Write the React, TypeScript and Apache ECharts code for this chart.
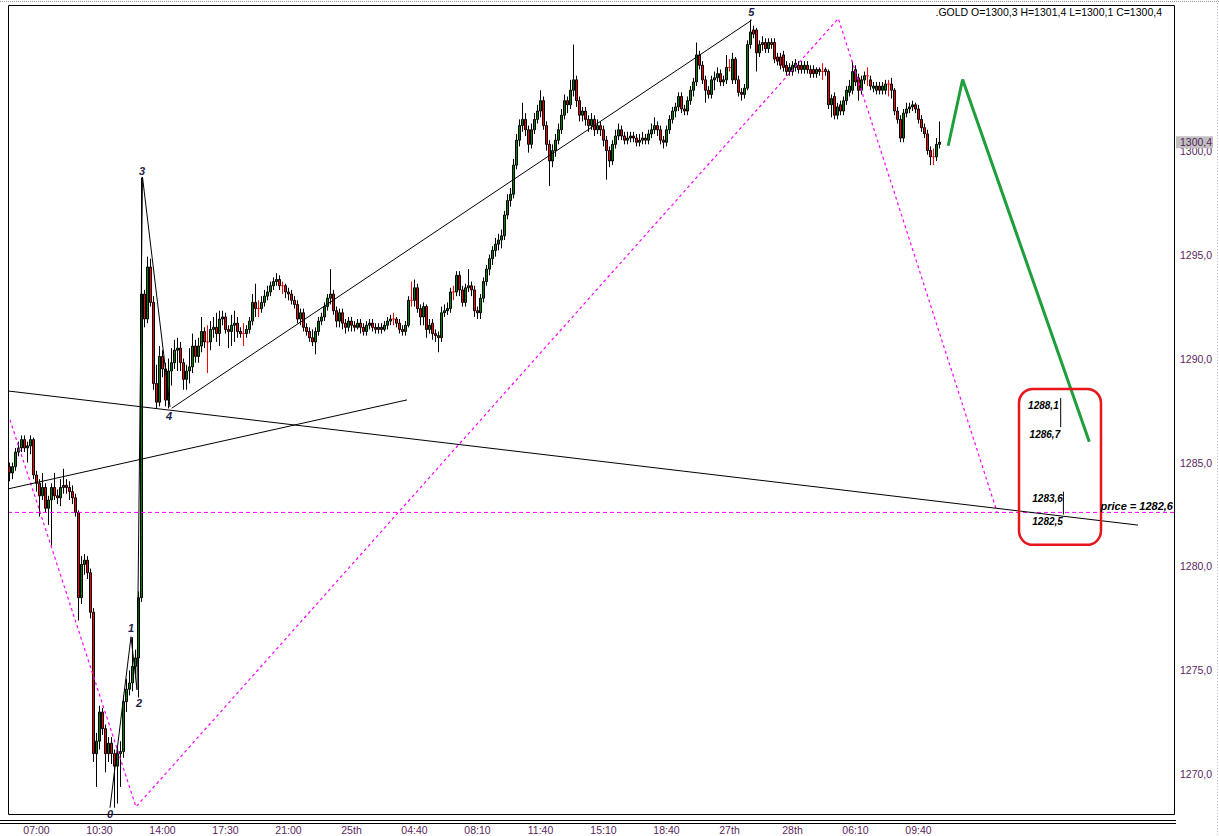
import React, { useEffect, useRef } from "react";
import * as echarts from "echarts";

// ---------- axes ----------
const SLOT_COUNT = 389; // bar slots across the price window (3 px each)
const Y_MIN = 1268.05;
const Y_MAX = 1307.0;
const priceTicks = [1270, 1275, 1280, 1285, 1290, 1295, 1300];
const timeLabelText = ["07:00", "10:30", "14:00", "17:30", "21:00", "25th", "04:40", "08:10", "11:40", "15:10", "18:40", "27th", "28th", "06:10", "09:40"];
const timeLabelBar = [9, 30, 51, 72, 93, 114, 135, 156, 177, 198, 219, 240, 261, 282, 303];

// ---------- candles [open, close, low, high] ----------
const session1 = [
  [1284.8, 1284.5, 1284.1, 1285.0], [1284.5, 1284.8, 1284.2, 1285.0], [1284.8, 1285.5, 1284.6, 1285.7], [1285.5, 1285.7, 1285.3, 1286.0],
  [1285.7, 1286.1, 1285.5, 1286.3], [1286.1, 1285.7, 1285.5, 1286.3], [1285.7, 1285.8, 1285.0, 1286.0], [1285.8, 1286.1, 1285.4, 1286.3],
  [1286.1, 1284.4, 1284.2, 1286.2], [1284.4, 1284.0, 1283.6, 1284.6], [1284.0, 1283.4, 1282.4, 1284.2], [1283.4, 1283.8, 1283.2, 1284.5],
  [1283.8, 1282.8, 1282.6, 1284.0], [1282.8, 1283.2, 1282.0, 1283.4], [1283.2, 1283.8, 1281.0, 1284.0], [1283.8, 1283.4, 1283.2, 1284.5],
  [1283.4, 1283.3, 1283.0, 1283.7], [1283.3, 1283.8, 1282.9, 1284.2], [1283.8, 1283.9, 1283.5, 1284.7], [1283.9, 1283.8, 1283.5, 1284.2],
  [1283.8, 1283.6, 1283.2, 1284.1], [1283.6, 1283.3, 1283.0, 1283.9], [1283.3, 1282.6, 1282.4, 1283.5], [1282.6, 1278.5, 1277.4, 1282.7],
  [1278.5, 1280.1, 1278.2, 1280.5], [1280.1, 1280.3, 1279.6, 1280.6], [1280.3, 1279.7, 1279.4, 1280.5], [1279.7, 1277.8, 1277.5, 1279.9],
  [1277.8, 1271.0, 1270.6, 1278.0], [1271.0, 1271.6, 1269.4, 1272.0], [1271.6, 1273.0, 1271.2, 1273.3], [1273.0, 1272.2, 1271.9, 1273.2],
  [1272.2, 1271.0, 1270.1, 1272.4], [1271.0, 1271.5, 1270.6, 1271.8], [1271.5, 1271.0, 1270.5, 1271.8], [1271.0, 1270.4, 1268.4, 1271.2],
  [1270.4, 1271.0, 1268.6, 1271.3], [1271.0, 1271.1, 1269.4, 1271.6], [1271.1, 1273.5, 1270.8, 1273.8], [1273.5, 1274.1, 1273.0, 1274.6],
  [1274.1, 1274.4, 1273.8, 1275.0], [1274.4, 1275.2, 1274.0, 1276.6], [1275.2, 1275.6, 1274.8, 1276.0], [1275.6, 1278.5, 1273.7, 1278.8],
  [1278.5, 1293.1, 1278.3, 1298.7],
];
const session2 = [
  [1293.1, 1291.9, 1291.5, 1293.3], [1291.9, 1294.4, 1291.7, 1294.9], [1294.4, 1292.7, 1292.5, 1294.8], [1292.7, 1288.8, 1288.5, 1293.0],
  [1288.8, 1287.9, 1287.6, 1289.7], [1287.9, 1290.1, 1287.7, 1290.6], [1290.1, 1289.5, 1289.1, 1290.4], [1289.5, 1288.0, 1287.7, 1289.8],
  [1288.0, 1289.4, 1287.6, 1290.0], [1289.4, 1289.8, 1288.7, 1290.5], [1289.8, 1290.4, 1289.5, 1290.9], [1290.4, 1290.5, 1289.4, 1291.0],
  [1290.5, 1289.8, 1289.4, 1290.8], [1289.8, 1289.0, 1288.5, 1290.0], [1289.0, 1289.4, 1288.5, 1289.7], [1289.4, 1289.6, 1288.8, 1290.5],
  [1289.6, 1290.6, 1289.3, 1291.2], [1290.6, 1290.1, 1289.8, 1290.9], [1290.1, 1290.6, 1289.8, 1291.0], [1290.6, 1291.3, 1290.3, 1292.0],
  [1291.3, 1290.8, 1290.5, 1291.5], [1290.8, 1290.8, 1289.3, 1291.6], [1290.8, 1291.4, 1290.4, 1291.8], [1291.4, 1291.5, 1291.0, 1292.0],
  [1291.5, 1291.2, 1290.8, 1292.2], [1291.2, 1291.9, 1290.6, 1292.3], [1291.9, 1292.0, 1291.6, 1292.3], [1292.0, 1291.4, 1291.2, 1292.2],
  [1291.4, 1291.3, 1290.5, 1291.6], [1291.3, 1291.6, 1290.6, 1292.1], [1291.6, 1291.7, 1290.8, 1292.3], [1291.7, 1291.3, 1291.0, 1292.0],
  [1291.3, 1291.2, 1291.0, 1291.5], [1291.2, 1291.2, 1290.6, 1291.7], [1291.2, 1291.4, 1291.0, 1291.6], [1291.4, 1291.8, 1291.2, 1292.0],
  [1291.8, 1292.7, 1291.6, 1293.1], [1292.7, 1292.4, 1292.0, 1293.6], [1292.4, 1292.4, 1292.0, 1292.8], [1292.4, 1292.7, 1292.2, 1293.0],
  [1292.7, 1293.0, 1292.5, 1293.3], [1293.0, 1293.2, 1292.8, 1293.5], [1293.2, 1293.5, 1293.0, 1293.7], [1293.5, 1293.7, 1293.3, 1293.9],
  [1293.7, 1293.8, 1293.5, 1294.1], [1293.8, 1293.5, 1293.3, 1294.0], [1293.5, 1293.5, 1293.1, 1293.7], [1293.5, 1293.2, 1292.9, 1293.6],
  [1293.2, 1293.1, 1292.8, 1293.4], [1293.1, 1292.8, 1292.6, 1293.3], [1292.8, 1292.6, 1292.4, 1293.0], [1292.6, 1291.9, 1291.7, 1292.8],
  [1291.9, 1292.2, 1291.6, 1292.4], [1292.2, 1291.5, 1291.3, 1292.4], [1291.5, 1291.3, 1291.1, 1291.7], [1291.3, 1291.0, 1290.8, 1291.5],
  [1291.0, 1290.8, 1290.6, 1291.4], [1290.8, 1291.3, 1290.2, 1291.5],
];
const session3 = [
  [1291.3, 1291.8, 1291.1, 1292.0], [1291.8, 1292.0, 1291.6, 1292.2], [1292.0, 1292.5, 1291.8, 1292.7], [1292.5, 1292.9, 1292.3, 1293.1],
  [1292.9, 1293.1, 1292.6, 1294.3], [1293.1, 1292.3, 1292.1, 1293.3], [1292.3, 1291.8, 1291.5, 1292.5], [1291.8, 1292.2, 1291.5, 1292.4],
  [1292.2, 1291.7, 1291.4, 1292.4], [1291.7, 1291.5, 1291.2, 1291.9], [1291.5, 1291.8, 1291.3, 1292.0], [1291.8, 1291.6, 1291.3, 1292.0],
  [1291.6, 1291.5, 1291.3, 1291.8], [1291.5, 1291.7, 1291.4, 1291.9], [1291.7, 1291.5, 1291.2, 1291.9], [1291.5, 1291.3, 1291.1, 1291.7],
  [1291.3, 1291.6, 1291.1, 1291.8], [1291.6, 1291.7, 1291.4, 1291.9], [1291.7, 1291.5, 1291.3, 1291.9], [1291.5, 1291.4, 1291.2, 1291.7],
  [1291.4, 1291.5, 1291.2, 1291.7], [1291.5, 1291.4, 1291.2, 1291.7], [1291.4, 1291.6, 1291.3, 1291.8], [1291.6, 1291.8, 1291.4, 1292.0],
  [1291.8, 1291.9, 1291.6, 1292.1], [1291.9, 1291.9, 1291.6, 1292.2], [1291.9, 1291.7, 1291.5, 1292.0], [1291.7, 1291.4, 1291.2, 1291.9],
  [1291.4, 1291.3, 1291.1, 1291.6], [1291.3, 1291.6, 1291.1, 1291.8], [1291.6, 1292.8, 1291.5, 1293.0], [1292.8, 1292.8, 1292.5, 1293.7],
  [1292.8, 1293.4, 1292.5, 1293.8], [1293.4, 1292.4, 1292.2, 1293.6], [1292.4, 1292.0, 1291.6, 1292.6], [1292.0, 1292.5, 1291.6, 1292.7],
  [1292.5, 1291.4, 1291.0, 1292.6], [1291.4, 1291.6, 1291.2, 1291.9], [1291.7, 1291.2, 1290.9, 1291.9], [1291.2, 1291.1, 1290.8, 1291.4],
  [1291.1, 1291.0, 1290.3, 1291.3], [1291.0, 1292.2, 1290.8, 1292.5], [1292.2, 1292.3, 1292.0, 1292.6], [1292.3, 1292.4, 1292.1, 1292.7],
  [1292.4, 1293.2, 1292.2, 1293.4], [1293.2, 1293.2, 1292.8, 1293.5], [1293.2, 1294.0, 1293.0, 1294.2], [1294.0, 1293.3, 1293.0, 1294.2],
  [1293.3, 1292.7, 1292.5, 1293.5], [1292.7, 1293.4, 1292.5, 1293.6], [1293.4, 1293.5, 1293.2, 1294.3], [1293.5, 1293.3, 1293.0, 1293.7],
  [1293.3, 1292.3, 1292.0, 1293.5], [1292.3, 1292.2, 1291.9, 1292.5], [1292.2, 1292.9, 1291.9, 1293.1], [1292.9, 1293.7, 1292.7, 1293.9],
  [1293.7, 1294.3, 1293.5, 1294.5],
];
const session4 = [
  [1294.3, 1294.8, 1294.0, 1295.0], [1294.8, 1295.2, 1294.5, 1295.4], [1295.2, 1295.5, 1294.9, 1295.8], [1295.5, 1295.7, 1295.2, 1296.0],
  [1295.7, 1295.9, 1295.3, 1296.2], [1295.9, 1296.9, 1295.7, 1297.1], [1296.9, 1297.6, 1296.7, 1297.9], [1297.6, 1297.9, 1297.3, 1298.2],
  [1297.9, 1299.3, 1297.7, 1299.6], [1299.3, 1300.5, 1299.1, 1300.8], [1300.5, 1301.2, 1300.2, 1301.5], [1301.2, 1301.5, 1300.9, 1302.3],
  [1301.5, 1301.0, 1300.7, 1301.8], [1301.0, 1300.3, 1299.9, 1301.2], [1300.3, 1301.0, 1300.1, 1301.3], [1301.0, 1301.5, 1300.8, 1301.8],
  [1301.5, 1301.9, 1301.3, 1302.2], [1301.9, 1302.4, 1301.6, 1302.9], [1302.4, 1301.2, 1301.0, 1302.6], [1301.2, 1300.3, 1300.0, 1301.4],
  [1300.3, 1299.5, 1298.3, 1300.5], [1299.5, 1300.0, 1299.2, 1300.3], [1300.0, 1300.5, 1299.7, 1300.8], [1300.5, 1301.0, 1300.3, 1301.3],
  [1301.0, 1301.7, 1300.8, 1302.0], [1301.7, 1302.4, 1301.5, 1302.7], [1302.4, 1302.2, 1301.8, 1302.6], [1302.2, 1302.9, 1302.0, 1303.4],
  [1302.9, 1303.4, 1302.6, 1305.1], [1303.4, 1302.4, 1302.1, 1303.6], [1302.4, 1301.7, 1301.4, 1302.6], [1301.7, 1301.9, 1301.4, 1302.1],
  [1301.9, 1301.5, 1301.2, 1302.1], [1301.5, 1301.2, 1300.9, 1301.7], [1301.2, 1301.5, 1301.0, 1301.8], [1301.5, 1301.0, 1300.7, 1301.7],
  [1301.0, 1301.2, 1300.8, 1301.5], [1301.2, 1301.0, 1300.7, 1301.4], [1301.0, 1300.5, 1300.2, 1301.2], [1300.5, 1300.0, 1298.6, 1300.7],
  [1300.0, 1299.5, 1299.2, 1300.2], [1299.5, 1300.3, 1299.3, 1300.5], [1300.3, 1300.7, 1300.1, 1301.0], [1300.7, 1301.0, 1300.5, 1301.3],
  [1301.0, 1300.7, 1300.5, 1301.2], [1300.7, 1300.5, 1300.3, 1300.9], [1300.5, 1300.6, 1300.3, 1300.9], [1300.6, 1300.7, 1300.4, 1300.9],
  [1300.7, 1300.6, 1300.4, 1300.9], [1300.6, 1300.4, 1300.2, 1300.8], [1300.4, 1300.5, 1300.2, 1300.8], [1300.5, 1300.6, 1300.3, 1300.9],
  [1300.6, 1300.5, 1300.3, 1300.8], [1300.5, 1300.8, 1300.3, 1301.0], [1300.8, 1301.0, 1300.6, 1301.3], [1301.0, 1301.2, 1300.8, 1301.6],
  [1301.2, 1301.0, 1300.7, 1301.4], [1301.0, 1300.5, 1300.3, 1301.2], [1300.5, 1300.4, 1300.1, 1300.7], [1300.4, 1301.0, 1300.2, 1301.2],
  [1301.0, 1301.5, 1300.8, 1301.7], [1301.5, 1301.9, 1301.3, 1302.1], [1301.9, 1302.1, 1301.6, 1302.3], [1302.1, 1302.6, 1301.9, 1302.8],
];
const session5 = [
  [1302.6, 1302.0, 1301.8, 1302.8], [1302.0, 1301.9, 1301.7, 1302.2], [1301.9, 1302.4, 1301.7, 1302.6], [1302.4, 1302.9, 1302.2, 1303.1],
  [1302.9, 1303.3, 1302.6, 1303.5], [1303.3, 1304.6, 1303.1, 1305.2], [1304.6, 1304.1, 1303.9, 1304.8], [1304.1, 1303.4, 1303.2, 1304.3],
  [1303.4, 1302.9, 1302.3, 1303.6], [1302.9, 1302.7, 1302.5, 1303.1], [1302.7, 1303.4, 1302.5, 1303.6], [1303.4, 1303.5, 1302.9, 1303.8],
  [1303.5, 1303.7, 1303.3, 1304.0], [1303.7, 1303.3, 1303.1, 1303.9], [1303.3, 1303.4, 1303.1, 1303.6], [1303.4, 1304.0, 1303.2, 1304.6],
  [1304.0, 1304.0, 1303.8, 1304.4], [1303.4, 1304.4, 1303.2, 1304.7], [1304.4, 1303.4, 1303.2, 1304.5], [1303.4, 1302.8, 1302.6, 1303.6],
  [1302.8, 1302.7, 1302.4, 1303.0], [1302.7, 1303.0, 1302.5, 1303.2], [1303.0, 1305.1, 1302.9, 1305.3], [1305.1, 1305.7, 1304.9, 1306.3],
  [1305.8, 1305.6, 1305.4, 1306.0], [1305.8, 1304.7, 1303.8, 1305.9], [1304.7, 1305.1, 1304.5, 1305.3], [1305.1, 1305.2, 1304.8, 1305.5],
  [1305.2, 1304.9, 1304.7, 1305.4], [1304.9, 1305.2, 1304.7, 1305.4], [1305.2, 1305.1, 1304.9, 1305.4], [1305.2, 1304.4, 1304.2, 1305.4],
  [1304.5, 1304.3, 1304.1, 1304.7], [1304.5, 1304.1, 1303.9, 1304.7], [1304.6, 1304.0, 1303.8, 1304.8], [1304.1, 1303.8, 1303.6, 1304.3],
  [1303.8, 1304.0, 1303.6, 1304.2], [1303.8, 1304.1, 1303.6, 1304.3], [1304.0, 1304.2, 1303.8, 1304.4], [1304.1, 1303.9, 1303.7, 1304.3],
  [1304.1, 1303.9, 1303.7, 1304.3], [1303.9, 1304.1, 1303.7, 1304.3], [1304.1, 1303.9, 1303.7, 1304.3], [1303.9, 1303.7, 1303.5, 1304.1],
  [1303.9, 1303.7, 1303.5, 1304.1], [1303.7, 1303.9, 1303.5, 1304.0], [1303.9, 1303.8, 1303.6, 1304.0], [1303.8, 1303.8, 1303.4, 1304.2],
  [1303.9, 1303.8, 1303.6, 1304.0], [1303.8, 1302.2, 1302.0, 1303.9], [1302.2, 1302.5, 1301.6, 1302.7], [1302.6, 1301.7, 1301.5, 1302.8],
  [1301.7, 1302.1, 1301.5, 1302.3], [1302.2, 1301.9, 1301.7, 1302.4], [1301.9, 1302.4, 1301.7, 1302.6], [1302.4, 1302.9, 1302.2, 1303.1],
  [1302.8, 1303.1, 1302.6, 1303.4], [1302.9, 1303.8, 1302.7, 1304.3], [1303.9, 1303.3, 1303.1, 1304.1], [1303.5, 1302.9, 1302.4, 1303.7],
  [1302.9, 1303.4, 1302.7, 1303.6], [1303.4, 1303.6, 1303.2, 1303.8], [1303.6, 1303.6, 1303.1, 1304.0], [1303.4, 1303.1, 1302.9, 1303.6],
  [1303.0, 1303.1, 1302.8, 1303.3], [1302.9, 1303.1, 1302.7, 1303.3], [1303.1, 1302.9, 1302.7, 1303.3], [1302.9, 1303.1, 1302.7, 1303.3],
  [1302.9, 1303.2, 1302.7, 1303.4], [1303.2, 1303.2, 1302.6, 1303.4], [1303.2, 1302.9, 1302.5, 1303.5], [1302.9, 1301.9, 1301.7, 1303.0],
  [1301.9, 1301.5, 1301.3, 1302.1], [1301.5, 1300.6, 1300.4, 1301.7], [1300.6, 1301.8, 1300.4, 1302.0], [1301.8, 1302.0, 1301.6, 1302.3],
  [1302.0, 1302.1, 1301.8, 1302.3], [1302.1, 1302.2, 1301.9, 1302.4], [1302.2, 1302.0, 1301.8, 1302.3], [1302.0, 1301.5, 1301.3, 1302.2],
  [1301.5, 1301.1, 1300.9, 1301.7], [1301.1, 1300.8, 1300.6, 1301.3], [1300.8, 1300.0, 1299.8, 1301.0], [1300.0, 1299.7, 1299.3, 1300.2],
  [1299.7, 1299.7, 1299.3, 1300.1], [1299.7, 1300.3, 1299.5, 1300.6], [1300.3, 1300.4, 1300.1, 1301.4],
];

// ---------- drawings (bar index, price) ----------
const trendLineLong = [[-0.5, 1288.44], [376.17, 1281.99]];
const trendLineRising = [[-0.5, 1283.73], [132.5, 1288.01]];
const channelLine = [[54.07, 1287.61], [247.4, 1306.27]];
const wavePoints = [[33.5, 1268.4], [40.5, 1276.62], [42.5, 1274.07], [44.33, 1298.73], [53.5, 1287.67], [247.4, 1306.27]];
const waveLabels = ["0", "1", "2", "3", "4", "5"];
const zigzag = [[0.17, 1287.05], [42.17, 1268.44], [276.27, 1306.35], [329.17, 1282.63]];
const targetPrice = 1282.6;
const projection = [[312.9, 1300.23], [317.7, 1303.42], [359.93, 1286.0]];
const upperRange = [350.4, 1288.1, 1286.7];
const lowerRange = [351.3, 1283.6, 1282.5];
const zoneBox = [336.5, 363.83, 1288.54, 1281.04];
const lastQuote = [1300.3, 1301.4, 1300.1, 1300.4]; // O H L C

const AXIS_FONT = '"Liberation Sans", Arial, sans-serif';
const AXIS_COLOR = "#5a1f5e";

const fmt = (v: number) => v.toFixed(1).replace(".", ",");

export default function App() {
  const ref = useRef<HTMLDivElement>(null);

  useEffect(() => {
    const chart = echarts.init(ref.current!, null, { renderer: "svg" });
    const candles = [...session1, ...session2, ...session3, ...session4, ...session5];
    const categories = Array.from({ length: SLOT_COUNT }, (_, i) => String(i));
    const labelAt: Record<number, string> = {};
    timeLabelBar.forEach((b, k) => (labelAt[b] = timeLabelText[k]));

    const line = (name: string, data: number[][], lineStyle: any, z = 3) => ({
      type: "line",
      name,
      xAxisIndex: 1,
      yAxisIndex: 0,
      data,
      symbol: "none",
      silent: true,
      z,
      lineStyle,
    });

    const wavePolyline = wavePoints.slice(0, 5);

    chart.setOption({
      animation: false,
      backgroundColor: "#ffffff",
      grid: { left: 8, right: 44, top: 5, bottom: 21, show: false },
      xAxis: [
        {
          type: "category",
          data: categories,
          boundaryGap: true,
          axisLine: { show: false },
          axisTick: { show: false },
          splitLine: { show: false },
          axisLabel: {
            interval: (i: number) => labelAt[i] !== undefined,
            formatter: (_v: string, i: number) => labelAt[i] ?? "",
            margin: 9,
            color: AXIS_COLOR,
            fontSize: 10.5,
            fontFamily: AXIS_FONT,
          },
        },
        { type: "value", min: -0.5, max: SLOT_COUNT - 0.5, show: false },
      ],
      yAxis: {
        type: "value",
        position: "right",
        min: Y_MIN,
        max: Y_MAX,
        axisLine: { show: false },
        axisTick: { show: false },
        splitLine: { show: false },
        axisLabel: {
          customValues: priceTicks,
          formatter: (v: number) => fmt(v),
          margin: 5,
          color: AXIS_COLOR,
          fontSize: 10.5,
          fontFamily: AXIS_FONT,
        },
      },
      series: [
        {
          type: "candlestick",
          data: candles,
          barWidth: 3,
          z: 2,
          itemStyle: {
            color: "#008000",
            color0: "#ff0000",
            borderColor: "#000000",
            borderColor0: "#000000",
            borderColorDoji: "#ff0000",
            borderWidth: 1,
          },
        },
        line("zigzag", zigzag, { color: "#ff00ff", width: 1.2, type: [3, 3] }),
        line("price", [[-0.5, targetPrice], [SLOT_COUNT - 0.5, targetPrice]], { color: "#ff00ff", width: 1, type: [4, 3] }),
        line("trendLong", trendLineLong, { color: "#000000", width: 1 }),
        line("trendRising", trendLineRising, { color: "#000000", width: 1 }),
        line("channel", channelLine, { color: "#000000", width: 1 }),
        line("waves", wavePolyline, { color: "#000000", width: 1 }),
        line("projection", projection, { color: "#1f9e3c", width: 3 }, 4),
        line("upperRange", [[upperRange[0], upperRange[1]], [upperRange[0], upperRange[2]]], { color: "#000000", width: 1 }),
        line("lowerRange", [[lowerRange[0], lowerRange[1]], [lowerRange[0], lowerRange[2]]], { color: "#000000", width: 1 }),
      ],
    });

    const P = (x: number, y: number) => chart.convertToPixel({ seriesIndex: 1 }, [x, y]) as number[];
    const text = (t: string, x: number, y: number, opts: any = {}) => ({
      type: "text",
      z: 100,
      x,
      y,
      silent: true,
      style: {
        text: t,
        fill: opts.fill ?? "#000000",
        fontSize: opts.fontSize ?? 11,
        fontFamily: AXIS_FONT,
        fontStyle: opts.fontStyle ?? "normal",
        fontWeight: opts.fontWeight ?? "normal",
        align: opts.align ?? "center",
        verticalAlign: "middle",
      },
    });

    const g: any[] = [];
    // zone box
    const b1 = P(zoneBox[0], zoneBox[2]);
    const b2 = P(zoneBox[1], zoneBox[3]);
    g.push({
      type: "rect",
      z: 100,
      silent: true,
      shape: { x: b1[0], y: b1[1], width: b2[0] - b1[0], height: b2[1] - b1[1], r: 14 },
      style: { fill: "none", stroke: "#e8151b", lineWidth: 2.5 },
    });
    const bi = { fontStyle: "italic", fontWeight: "bold", fontSize: 10, align: "right" };
    const u1 = P(upperRange[0], upperRange[1]);
    const u2 = P(upperRange[0], upperRange[2]);
    const l1 = P(lowerRange[0], lowerRange[1]);
    const l2 = P(lowerRange[0], lowerRange[2]);
    g.push(text(fmt(upperRange[1]), u1[0] - 2, u1[1] + 7.5, bi));
    g.push(text(fmt(upperRange[2]), u2[0] - 0.5, u2[1] + 7, bi));
    g.push(text(fmt(lowerRange[1]), l1[0] - 0.5, l1[1] + 7.3, bi));
    g.push(text(fmt(lowerRange[2]), l2[0] - 0.5, l2[1] + 7.3, bi));
    // price label
    const pp = P(SLOT_COUNT - 0.5, targetPrice);
    g.push(text(`price = ${fmt(targetPrice)}`, pp[0] - 2, pp[1] - 6.5, { fontStyle: "italic", fontWeight: "bold", fontSize: 11, align: "right" }));
    // wave labels
    const waveOffsets = [[0, 6], [0, -9], [2, 13], [-0.5, -6], [-1, 9], [-0.5, -8]];
    wavePoints.forEach((p, k) => {
      const q = P(p[0], p[1]);
      g.push(
        text(waveLabels[k], q[0] + waveOffsets[k][0], q[1] + waveOffsets[k][1], {
          fontStyle: "italic",
          fontWeight: "bold",
          fontSize: 11,
          fill: "#1c1c44",
        })
      );
    });
    // header quote
    g.push(
      text(`.GOLD O=${fmt(lastQuote[0])} H=${fmt(lastQuote[1])} L=${fmt(lastQuote[2])} C=${fmt(lastQuote[3])}`, 1162, 12, {
        fontSize: 10.5,
        align: "right",
      })
    );
    // current price tag
    const cp = P(SLOT_COUNT - 0.5, lastQuote[3]);
    g.push({ type: "rect", z: 100, silent: true, shape: { x: 1176, y: cp[1] - 6, width: 37, height: 12 }, style: { fill: "#c0c0c0" } });
    g.push(text(fmt(lastQuote[3]), 1180, cp[1], { fontSize: 10.5, align: "left", fill: AXIS_COLOR }));
    // frame
    g.push({ type: "rect", z: 99, silent: true, shape: { x: 0, y: 815.5, width: 1219, height: 4 }, style: { fill: "#ffffff" } });
    g.push({ type: "rect", z: 101, silent: true, shape: { x: 8.5, y: 5.5, width: 1166, height: 809 }, style: { fill: "none", stroke: "#000000", lineWidth: 1 } });
    g.push({ type: "line", z: 101, silent: true, shape: { x1: 0, y1: 820.5, x2: 1176, y2: 820.5 }, style: { stroke: "#000000", lineWidth: 1 } });
    g.push({ type: "line", z: 101, silent: true, shape: { x1: 0, y1: 823.5, x2: 1176, y2: 823.5 }, style: { stroke: "#000000", lineWidth: 1 } });
    g.push({ type: "line", z: 101, silent: true, shape: { x1: 0, y1: 1.5, x2: 1219, y2: 1.5 }, style: { stroke: "#9a9a8c", lineWidth: 1, lineDash: [1, 1] } });
    g.push({ type: "line", z: 101, silent: true, shape: { x1: 1217.5, y1: 0, x2: 1217.5, y2: 836 }, style: { stroke: "#b4bee0", lineWidth: 1, lineDash: [1, 2] } });

    chart.setOption({ graphic: g });

    return () => chart.dispose();
  }, []);

  return <div ref={ref} style={{ position: "fixed", left: 0, top: 0, width: 1219, height: 836, background: "#fff" }} />;
}
